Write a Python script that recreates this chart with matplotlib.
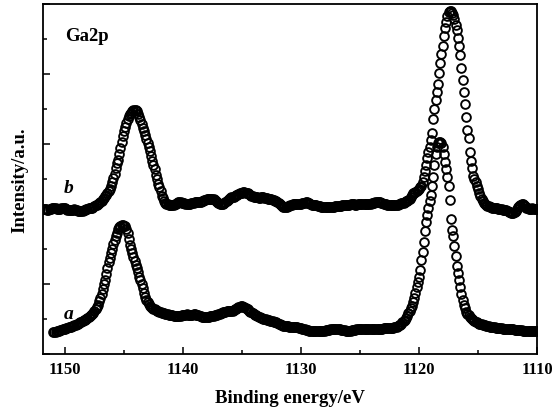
import numpy as np
import matplotlib
matplotlib.use("Agg")
import matplotlib.pyplot as plt
from matplotlib.ticker import MultipleLocator, NullFormatter

plt.rcParams['font.family'] = ['Liberation Serif', 'DejaVu Serif']

# Binding energy sampling (eV), 0.1 eV steps, high -> low
b_start, b_end = 1151.8, 1110.0
a_start, a_end = 1151.0, 1110.0

# Curve b (upper spectrum), intensity in arbitrary units
b_values = [
    4.14, 4.15, 4.13, 4.12, 4.12, 4.13, 4.15, 4.16, 4.17, 4.17,
    4.16, 4.15, 4.14, 4.14, 4.15, 4.16, 4.17, 4.17, 4.16, 4.14,
    4.12, 4.11, 4.10, 4.10, 4.11, 4.12, 4.13, 4.12, 4.10, 4.08,
    4.07, 4.07, 4.08, 4.09, 4.10, 4.12, 4.14, 4.15, 4.16, 4.16,
    4.17, 4.18, 4.20, 4.22, 4.24, 4.26, 4.28, 4.31, 4.34, 4.37,
    4.41, 4.45, 4.50, 4.54, 4.59, 4.64, 4.72, 4.80, 4.90, 5.03,
    5.15, 5.30, 5.45, 5.55, 5.71, 5.88, 6.05, 6.22, 6.37, 6.49,
    6.60, 6.72, 6.79, 6.84, 6.88, 6.92, 6.95, 6.97, 6.96, 6.92,
    6.86, 6.77, 6.67, 6.56, 6.46, 6.36, 6.25, 6.14, 6.02, 5.90,
    5.78, 5.66, 5.52, 5.40, 5.28, 5.12, 4.98, 4.86, 4.76, 4.64,
    4.51, 4.44, 4.37, 4.32, 4.29, 4.27, 4.25, 4.24, 4.24, 4.24,
    4.25, 4.27, 4.29, 4.31, 4.33, 4.33, 4.33, 4.32, 4.31, 4.30,
    4.29, 4.29, 4.29, 4.29, 4.29, 4.30, 4.31, 4.32, 4.33, 4.33,
    4.33, 4.33, 4.33, 4.34, 4.36, 4.38, 4.39, 4.40, 4.41, 4.42,
    4.43, 4.43, 4.43, 4.43, 4.42, 4.40, 4.37, 4.34, 4.31, 4.29,
    4.28, 4.28, 4.29, 4.30, 4.33, 4.36, 4.40, 4.43, 4.45, 4.47,
    4.48, 4.49, 4.51, 4.53, 4.55, 4.57, 4.58, 4.59, 4.60, 4.61,
    4.61, 4.60, 4.59, 4.58, 4.56, 4.54, 4.52, 4.50, 4.49, 4.48,
    4.48, 4.47, 4.46, 4.46, 4.47, 4.48, 4.47, 4.46, 4.45, 4.44,
    4.43, 4.43, 4.42, 4.41, 4.40, 4.39, 4.38, 4.36, 4.34, 4.31,
    4.28, 4.25, 4.22, 4.20, 4.19, 4.19, 4.20, 4.21, 4.22, 4.24,
    4.26, 4.27, 4.28, 4.29, 4.29, 4.28, 4.27, 4.27, 4.28, 4.30,
    4.31, 4.32, 4.33, 4.33, 4.32, 4.30, 4.28, 4.26, 4.25, 4.24,
    4.24, 4.24, 4.23, 4.22, 4.21, 4.20, 4.20, 4.19, 4.19, 4.19,
    4.19, 4.19, 4.19, 4.19, 4.19, 4.20, 4.20, 4.21, 4.21, 4.22,
    4.22, 4.23, 4.23, 4.24, 4.24, 4.24, 4.24, 4.24, 4.25, 4.26,
    4.27, 4.28, 4.28, 4.27, 4.26, 4.26, 4.27, 4.28, 4.29, 4.29,
    4.29, 4.29, 4.29, 4.28, 4.27, 4.27, 4.28, 4.29, 4.30, 4.31,
    4.32, 4.33, 4.33, 4.33, 4.33, 4.33, 4.32, 4.31, 4.29, 4.28,
    4.27, 4.26, 4.25, 4.24, 4.24, 4.24, 4.24, 4.24, 4.24, 4.24,
    4.25, 4.27,
    4.29, 4.30, 4.31, 4.32, 4.33, 4.36, 4.38, 4.40, 4.42, 4.48,
    4.55, 4.58, 4.60, 4.62, 4.64, 4.68, 4.72, 4.76, 4.80, 4.90,
    5.06, 5.22, 5.40, 5.58, 5.76, 5.90, 6.10, 6.32, 6.70, 7.00,
    7.24, 7.47, 7.70, 8.02, 8.30, 8.55, 8.78, 9.08, 9.29, 9.48,
    9.65, 9.76, 9.80, 9.79, 9.74, 9.66, 9.57, 9.40, 9.24, 9.02,
    8.78, 8.52, 8.15, 7.82, 7.48, 7.12, 6.75, 6.40, 6.16, 5.75,
    5.52, 5.31, 5.09, 4.99, 4.90, 4.80, 4.70, 4.59, 4.50, 4.42,
    4.36, 4.31, 4.27, 4.25, 4.23, 4.22, 4.20, 4.19, 4.18, 4.18,
    4.17, 4.16, 4.16, 4.15, 4.14, 4.14, 4.13, 4.12, 4.12, 4.11,
    4.10, 4.08, 4.06, 4.04, 4.03, 4.02, 4.02, 4.05, 4.09, 4.14,
    4.19, 4.23, 4.26, 4.28, 4.27, 4.24, 4.21, 4.18, 4.16, 4.15,
    4.14, 4.15, 4.16, 4.15, 4.14, 4.14, 4.14,
]

# Curve a (lower spectrum)
a_values = [
    0.62, 0.63, 0.64, 0.65, 0.66, 0.67, 0.68, 0.69, 0.70, 0.71,
    0.72, 0.73, 0.74, 0.76, 0.77, 0.78, 0.80, 0.81, 0.82, 0.84,
    0.85, 0.87, 0.88, 0.90, 0.92, 0.94, 0.96, 0.98, 1.00, 1.02,
    1.05, 1.08, 1.11, 1.15, 1.18, 1.22, 1.28, 1.34, 1.41, 1.50,
    1.59, 1.71, 1.86, 2.00, 2.10, 2.28, 2.45, 2.62, 2.75, 2.87,
    3.00, 3.13, 3.25, 3.36, 3.46, 3.56, 3.62, 3.65, 3.67, 3.67,
    3.66, 3.64, 3.58, 3.44, 3.27, 3.12, 3.00, 2.89, 2.77, 2.65,
    2.55, 2.45, 2.33, 2.20, 2.10, 2.00, 1.87, 1.75, 1.63, 1.54,
    1.48, 1.42, 1.38, 1.35, 1.32, 1.29, 1.27, 1.25, 1.23, 1.22,
    1.20, 1.19, 1.18, 1.17, 1.16, 1.15, 1.14, 1.13, 1.12, 1.11,
    1.10, 1.10, 1.09, 1.09, 1.09, 1.09, 1.09, 1.09, 1.09, 1.10,
    1.11, 1.12, 1.12, 1.13, 1.12, 1.11, 1.10, 1.11, 1.12, 1.13,
    1.13, 1.12, 1.11, 1.10, 1.09, 1.08, 1.07, 1.06, 1.05, 1.05,
    1.06, 1.07, 1.07, 1.08, 1.08, 1.09, 1.09, 1.10, 1.11, 1.12,
    1.14, 1.15, 1.16, 1.17, 1.19, 1.20, 1.21, 1.22, 1.22, 1.23,
    1.23, 1.24, 1.24, 1.25, 1.27, 1.29, 1.31, 1.33, 1.35, 1.36,
    1.36, 1.35, 1.33, 1.31, 1.29, 1.27, 1.24, 1.21, 1.19, 1.16,
    1.14, 1.12, 1.10, 1.08, 1.07, 1.06, 1.04, 1.03, 1.01, 1.00,
    0.99, 0.98, 0.97, 0.96, 0.95, 0.94, 0.93, 0.92, 0.91, 0.90,
    0.88, 0.87, 0.85, 0.84, 0.82, 0.81, 0.80, 0.80, 0.79, 0.79,
    0.78, 0.78, 0.77, 0.77, 0.77, 0.76, 0.76, 0.76, 0.75, 0.74,
    0.73, 0.72, 0.71, 0.70, 0.69, 0.68, 0.68, 0.67, 0.67, 0.67,
    0.67, 0.67, 0.67, 0.67, 0.67, 0.67, 0.67, 0.67, 0.67, 0.67,
    0.67, 0.68, 0.68, 0.69, 0.69, 0.70, 0.70, 0.71, 0.71, 0.71,
    0.71, 0.71, 0.70, 0.70, 0.69, 0.69, 0.68, 0.68, 0.67, 0.67,
    0.67, 0.67, 0.67, 0.68, 0.68, 0.69, 0.69, 0.70, 0.70, 0.71,
    0.71, 0.71, 0.71, 0.71, 0.71, 0.71, 0.71, 0.71, 0.71, 0.70,
    0.70, 0.70, 0.71, 0.71, 0.71, 0.71, 0.72, 0.72, 0.72, 0.72,
    0.73, 0.73, 0.73, 0.73, 0.73, 0.73, 0.74, 0.74, 0.75, 0.76,
    0.77, 0.78, 0.80, 0.82, 0.84, 0.87, 0.90, 0.94, 0.98, 1.03,
    1.09, 1.16, 1.24, 1.31, 1.38, 1.48, 1.60, 1.75, 1.90, 2.05,
    2.20, 2.40, 2.68, 2.92, 3.20, 3.50, 3.78, 3.98, 4.16, 4.36,
    4.55, 4.78, 5.05, 5.40, 5.72, 5.92, 6.02, 6.06, 6.05, 6.02,
    5.90, 5.70, 5.48, 5.28, 5.05, 4.80, 4.40, 3.85, 3.55, 3.36,
    3.09, 2.80, 2.52, 2.30, 2.10, 1.90, 1.70, 1.53, 1.40, 1.30,
    1.21, 1.15, 1.10, 1.06, 1.02, 0.99, 0.96, 0.94, 0.92, 0.90,
    0.88, 0.87, 0.86, 0.85, 0.84, 0.83, 0.82, 0.81, 0.80, 0.79,
    0.78, 0.77, 0.77, 0.76, 0.76, 0.75, 0.75, 0.74, 0.74, 0.73,
    0.73, 0.72, 0.72, 0.72, 0.71, 0.71, 0.71, 0.71, 0.70, 0.70,
    0.70, 0.69, 0.69, 0.69, 0.68, 0.68, 0.68, 0.68, 0.67, 0.67,
    0.67, 0.67, 0.67, 0.67, 0.67, 0.67, 0.67, 0.67, 0.67, 0.67,
    0.67,
]

x_ticks = [1150, 1140, 1130, 1120, 1110]
x_tick_labels = ["1150", "1140", "1130", "1120", "1110"]

b_energy = np.linspace(b_start, b_end, len(b_values))
a_energy = np.linspace(a_start, a_end, len(a_values))

fig = plt.figure(figsize=(5.58, 4.14), dpi=100)
ax = fig.add_axes([0.0771, 0.1425, 0.8853, 0.8465])

mk = dict(linestyle='none', marker='o', markersize=6.3, markerfacecolor='none',
          markeredgecolor='black', markeredgewidth=1.35)
ax.plot(b_energy, b_values, **mk)
ax.plot(a_energy, a_values, **mk)

ax.set_xlim(1151.86, 1110.0)
ax.set_ylim(0, 10)

ax.set_xticks(x_ticks)
ax.set_xticklabels(x_tick_labels, fontweight='bold')
ax.xaxis.set_minor_locator(MultipleLocator(5))
ax.yaxis.set_major_locator(MultipleLocator(2))
ax.yaxis.set_minor_locator(MultipleLocator(1))
ax.yaxis.set_major_formatter(NullFormatter())

ax.tick_params(which='both', direction='in', top=False, right=False, width=1.1)
ax.tick_params(which='major', length=5)
ax.tick_params(which='minor', length=3)
ax.tick_params(axis='x', labelsize=12, pad=5)

for s in ax.spines.values():
    s.set_linewidth(1.3)

ax.set_xlabel("Binding energy/eV", fontsize=13.5, fontweight='bold', labelpad=9)
ax.set_ylabel("Intensity/a.u.", fontsize=13.5, fontweight='bold', labelpad=7)

ax.text(0.045, 0.91, "Ga2p", transform=ax.transAxes, fontsize=13.5,
        fontweight='bold', ha='left', va='center')
ax.text(0.042, 0.475, "b", transform=ax.transAxes, fontsize=14,
        style='italic', fontweight='bold', ha='left', va='center')
ax.text(0.042, 0.115, "a", transform=ax.transAxes, fontsize=14,
        style='italic', fontweight='bold', ha='left', va='center')

fig.savefig("out.png", dpi=100)
